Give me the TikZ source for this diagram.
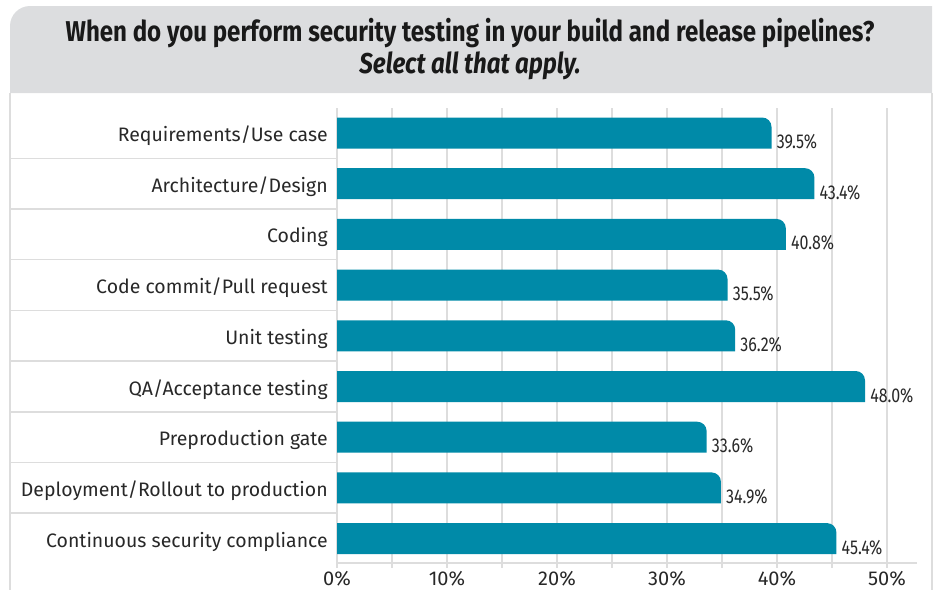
\documentclass[tikz,border=0pt]{standalone}
\usepackage{fontspec}
\setmainfont{Fira Sans}
\newfontfamily\condfont[FakeStretch=0.8]{Fira Sans}
\newfontfamily\titlefont[FakeStretch=0.84]{Fira Sans}
\definecolor{bar}{RGB}{0,138,168}
\definecolor{hdr}{RGB}{220,221,223}
\definecolor{grid}{RGB}{221,221,221}
\definecolor{txt}{RGB}{40,40,40}
\tikzset{
  gridline/.style={draw=grid, line width=1.1pt},
  barbox/.style={fill=bar},
  catlabel/.style={anchor=base east, inner sep=0pt, text=txt, font=\fontsize{14.6}{18}\selectfont},
  vallabel/.style={anchor=base west, inner sep=0pt, text=txt, font=\condfont\fontsize{15}{18}\selectfont},
  ticklabel/.style={anchor=base, inner sep=0pt, text=txt, font=\fontsize{15}{18}\selectfont},
}
\begin{document}
\begin{tikzpicture}[x=0.75pt, y=-0.75pt]
\useasboundingbox (0,0) rectangle (937,590);
% header
\fill[hdr] (10,93) [rounded corners=15pt]-- (10,6) [sharp corners]-- (932,6) -- (932,93) -- cycle;
\node[inner sep=0pt, text=black!90, font=\titlefont\bfseries\fontsize{21.5}{24}\selectfont] (title) at (470,33.5) {When do you perform security testing in your build and release pipelines?};
\node[inner sep=0pt, text=black!90, font=\titlefont\bfseries\itshape\fontsize{21.5}{24}\selectfont] (subtitle) at (470,66) {Select all that apply.};
% box borders
\draw[gridline] (10,93) -- (10,590);
\draw[gridline] (932,93) -- (932,590);
% grid
\foreach \k in {0,...,10} {
  \draw[gridline] (337+55*\k,108) -- (337+55*\k,568);
}
\draw[gridline] (337,563) -- (917,563);
\foreach \i in {0,...,7} {
  \draw[gridline] (10,158.3+50.7*\i) -- (337,158.3+50.7*\i);
}
% tick labels
\foreach \k/\t in {0/0\%,1/10\%,2/20\%,3/30\%,4/40\%,5/50\%} {
  \node[ticklabel] (tick\k) at (337+110*\k,585.5) {\t};
}
% bars
\foreach \i/\v/\lab in {
  0/39.5/{Requirements/Use case},
  1/43.4/{Architecture/Design},
  2/40.8/{Coding},
  3/35.5/{Code commit/Pull request},
  4/36.2/{Unit testing},
  5/48.0/{QA/Acceptance testing},
  6/33.6/{Preproduction gate},
  7/34.9/{Deployment/Rollout to production},
  8/45.4/{Continuous security compliance}} {
  \pgfmathsetmacro{\c}{133+50.7*\i}
  \pgfmathsetmacro{\e}{337+11*\v}
  \fill[barbox] (337,\c+15.5) -- (337,\c-15.5) [rounded corners=7pt]-- (\e,\c-15.5) [sharp corners]-- (\e,\c+15.5) -- cycle;
  \node[vallabel] (val\i) at (\e+5,\c+15.5) {\v\%};
  \node[catlabel] (cat\i) at (328,\c+8.5) {\lab};
}
\end{tikzpicture}
\end{document}
